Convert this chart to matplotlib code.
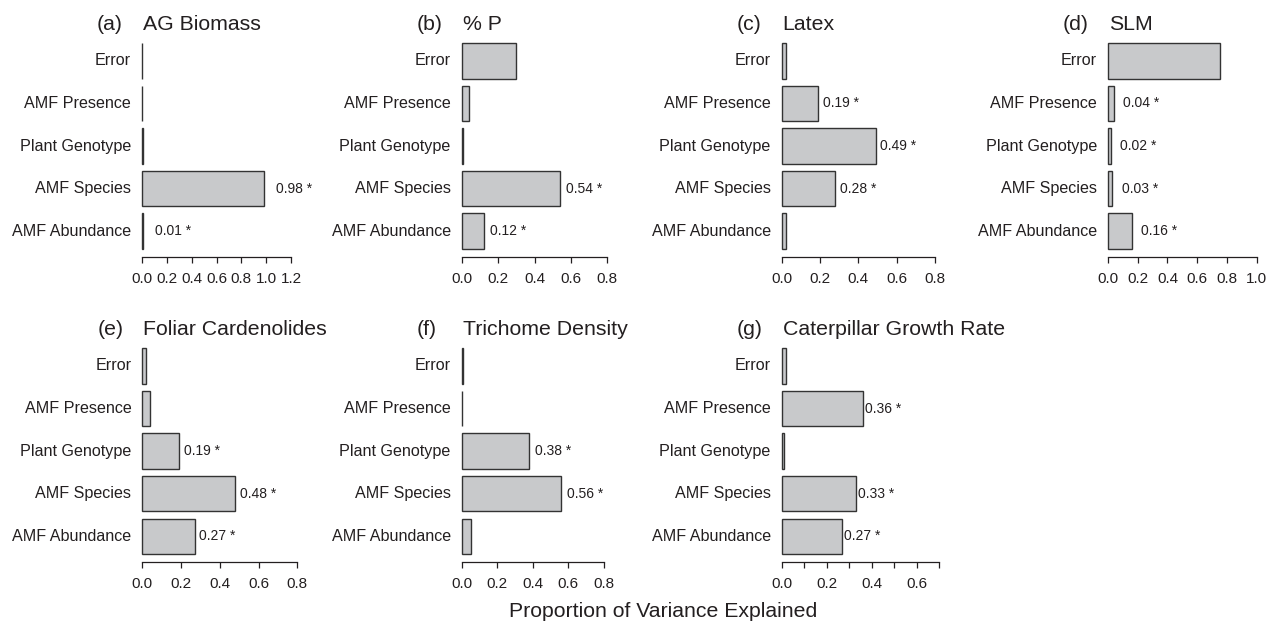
import numpy as np
import matplotlib
matplotlib.use('Agg')
import matplotlib.pyplot as plt
from matplotlib.transforms import blended_transform_factory

plt.rcParams['font.family'] = ['Liberation Sans', 'DejaVu Sans']

# ---------------- data ----------------
# categories listed bottom -> top
categories = ['AMF Abundance', 'AMF Species', 'Plant Genotype', 'AMF Presence', 'Error']

panel_letters = ['(a)', '(b)', '(c)', '(d)', '(e)', '(f)', '(g)']
titles = ['AG Biomass', '% P', 'Latex', 'SLM',
          'Foliar Cardenolides', 'Trichome Density', 'Caterpillar Growth Rate']

ag_biomass   = [0.01, 0.98, 0.005, 0.002, 0.003]
pct_p        = [0.12, 0.54, 0.005, 0.04, 0.30]
latex        = [0.02, 0.28, 0.49, 0.19, 0.02]
slm          = [0.16, 0.03, 0.02, 0.04, 0.75]
cardenolides = [0.27, 0.48, 0.19, 0.04, 0.02]
trichome     = [0.05, 0.56, 0.38, 0.002, 0.005]
caterpillar  = [0.27, 0.33, 0.01, 0.36, 0.02]

ag_biomass_sig   = [True, True, False, False, False]
pct_p_sig        = [True, True, False, False, False]
latex_sig        = [False, True, True, True, False]
slm_sig          = [True, True, True, True, False]
cardenolides_sig = [True, True, True, False, False]
trichome_sig     = [False, True, True, False, False]
caterpillar_sig  = [True, True, False, True, False]

values = [ag_biomass, pct_p, latex, slm, cardenolides, trichome, caterpillar]
sigs = [ag_biomass_sig, pct_p_sig, latex_sig, slm_sig, cardenolides_sig, trichome_sig, caterpillar_sig]

x_max = [1.2, 0.8, 0.8, 1.0, 0.8, 0.8, 0.7]
tick_step = [0.2, 0.2, 0.2, 0.2, 0.2, 0.2, 0.1]
xlabel = 'Proportion of Variance Explained'

# ---------------- layout (pixels) ----------------
W, H = 1268, 621
DPI = 100
PT = 72.0 / DPI
zero_px = [142.0, 461.7, 781.7, 1108.0, 142.3, 461.7, 781.7]
end_px = [291.0, 607.3, 935.0, 1256.7, 297.3, 604.0, 939.0]
row_of = [0, 0, 0, 0, 1, 1, 1]
gap_px = [12.0, 6.3, 4.8, 9.3, 4.6, 6.0, 2.0]
row_top = [34.8, 340.0]
row_bot = [257.2, 562.3]

text_col = '#231f20'
edge_col = '#333333'
fill_col = '#c8c9cb'

fig = plt.figure(figsize=(W / DPI, H / DPI), dpi=DPI)

centers = 0.7 + 1.2 * np.arange(len(categories))

for i in range(7):
    xm = x_max[i]
    ppu = (end_px[i] - zero_px[i]) / xm
    left = zero_px[i] - 0.04 * xm * ppu
    width = 1.08 * xm * ppu
    top, bot = row_top[row_of[i]], row_bot[row_of[i]]
    ax = fig.add_axes([left / W, 1 - bot / H, width / W, (bot - top) / H])
    ax.set_xlim(-0.04 * xm, 1.04 * xm)
    ax.set_ylim(-0.032, 6.232)

    ax.barh(centers, values[i], height=1.0, left=0, color=fill_col,
            edgecolor=edge_col, linewidth=1.0)

    for s in ['top', 'right', 'left']:
        ax.spines[s].set_visible(False)
    ax.spines['bottom'].set_bounds(0, xm)
    ax.spines['bottom'].set_linewidth(0.9)
    ax.spines['bottom'].set_color(text_col)
    ticks = np.round(np.arange(0, xm + 1e-9, tick_step[i]), 2)
    ax.set_xticks(ticks)
    if tick_step[i] < 0.15:
        labels = ['%.1f' % t if round(t / 0.2, 6) == round(t / 0.2) else '' for t in ticks]
    else:
        labels = ['%.1f' % t for t in ticks]
    ax.set_xticklabels(labels)
    ax.tick_params(axis='x', direction='out', length=6 * PT, width=0.9,
                   color=text_col, labelcolor=text_col, labelsize=11, pad=6.3)
    ax.set_yticks([])
    ax.patch.set_visible(False)

    for c, y in zip(categories, centers):
        ax.annotate(c, xy=(0, y), xytext=(-11 * PT, 0), textcoords='offset points',
                    ha='right', va='center', fontsize=11.6, color=text_col,
                    annotation_clip=False)
    for v, s, y in zip(values[i], sigs[i], centers):
        if s:
            ax.annotate('%.2f *' % v, xy=(v, y), xytext=(gap_px[i] * PT, 0),
                        textcoords='offset points', ha='left', va='center',
                        fontsize=10, color=text_col, annotation_clip=False)
    tr = blended_transform_factory(ax.transData, ax.transAxes)
    ax.annotate(titles[i], xy=(0, 1), xycoords=tr, xytext=(1 * PT, 4.8 * PT),
                textcoords='offset points', ha='left', va='baseline',
                fontsize=15.3, color=text_col, annotation_clip=False)
    ax.annotate(panel_letters[i], xy=(0, 1), xycoords=tr, xytext=(-45 * PT, 4.8 * PT),
                textcoords='offset points', ha='left', va='baseline',
                fontsize=15.3, color=text_col, annotation_clip=False)

fig.text(663.3 / W, 1 - 617 / H, xlabel, ha='center', va='baseline',
         fontsize=15.3, color=text_col)

fig.savefig('out.png', dpi=DPI)
